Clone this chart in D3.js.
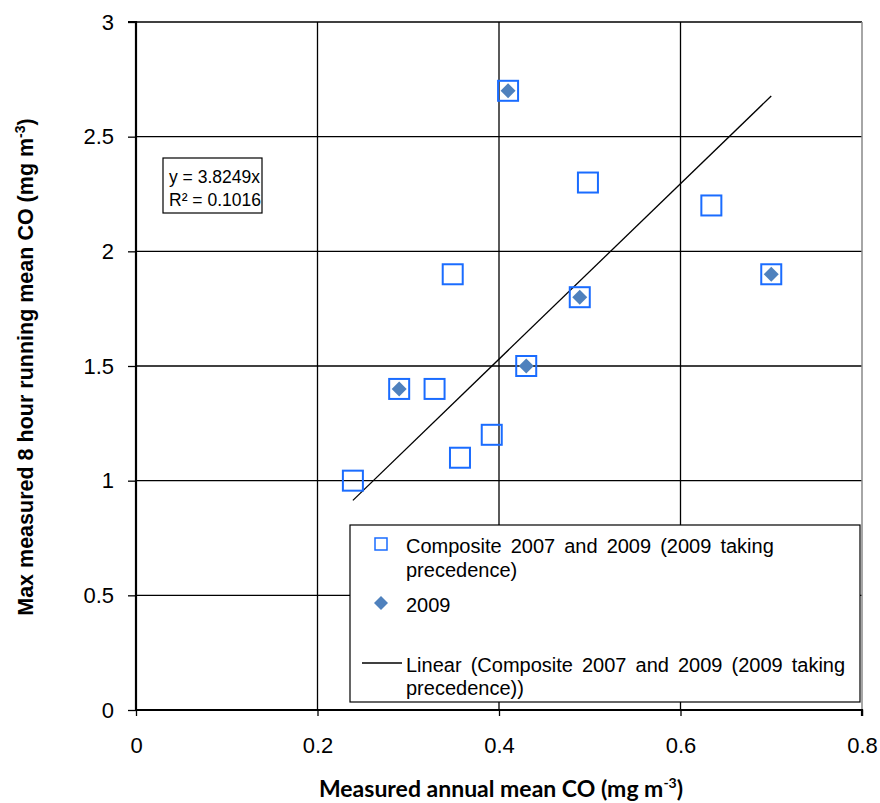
<!DOCTYPE html>
<html><head><meta charset="utf-8">
<script src="https://cdn.jsdelivr.net/npm/d3@7/dist/d3.min.js"></script>
<style>body{margin:0;background:#fff}</style>
</head><body>
<svg id="c" width="880" height="803"></svg>
<script>
const xTicks = [0, 0.2, 0.4, 0.6, 0.8];
const yTicks = [0, 0.5, 1, 1.5, 2, 2.5, 3];
const compositeX = [0.41, 0.498, 0.634, 0.70, 0.349, 0.489, 0.43, 0.29, 0.329, 0.392, 0.357, 0.239];
const compositeY = [2.7, 2.3, 2.2, 1.9, 1.9, 1.8, 1.5, 1.4, 1.4, 1.2, 1.1, 1.0];
const y2009X = [0.41, 0.70, 0.489, 0.43, 0.29];
const y2009Y = [2.7, 1.9, 1.8, 1.5, 1.4];
const slope = 3.8249;
const trendRange = [0.239, 0.70];
const legendLabels = ["Composite 2007 and 2009 (2009 taking", "precedence)", "2009", "Linear (Composite 2007 and 2009 (2009 taking", "precedence))"];
const eqLines = ["y = 3.8249x", "R² = 0.1016"];

const svg = d3.select("#c");
const L = 136, R = 862, T = 22, B = 710;
const x = d3.scaleLinear().domain([0, 0.8]).range([L, R]);
const y = d3.scaleLinear().domain([0, 3]).range([B, T]);
const SANS = "Liberation Sans, Arial, sans-serif";

// grid
const g = svg.append("g");
g.selectAll(".hg").data(yTicks.filter(d => d > 0)).join("line")
  .attr("x1", L).attr("x2", R).attr("y1", d => y(d)).attr("y2", d => y(d))
  .attr("stroke", "#000").attr("stroke-width", 1.3);
g.selectAll(".vg").data(xTicks.filter(d => d > 0 && d < 0.8)).join("line")
  .attr("y1", T).attr("y2", B).attr("x1", d => x(d)).attr("x2", d => x(d))
  .attr("stroke", "#000").attr("stroke-width", 1.3);
svg.append("line").attr("x1", R).attr("x2", R).attr("y1", T).attr("y2", B + 6)
  .attr("stroke", "#888").attr("stroke-width", 1.5);

// axes
const yAxis = d3.axisLeft(y).tickValues(yTicks).tickSize(8).tickPadding(14).tickFormat(d3.format("~g"));
const xAxis = d3.axisBottom(x).tickValues(xTicks).tickSize(6).tickPadding(21).tickFormat(d3.format("~g"));
const ya = svg.append("g").attr("transform", `translate(${L},0)`).call(yAxis);
const xa = svg.append("g").attr("transform", `translate(0,${B})`).call(xAxis);
[ya, xa].forEach(a => {
  a.select(".domain").attr("stroke", "#000").attr("stroke-width", 2.2);
  a.selectAll(".tick line").attr("stroke", "#000").attr("stroke-width", 1.3);
  a.selectAll("text").attr("font-family", SANS).attr("font-size", 22).attr("fill", "#000");
});
ya.select(".domain").attr("d", `M-8,${T}H0V${B}`);
xa.select(".domain").attr("d", `M${L},0H${R}V6`);

// trendline
svg.append("line")
  .attr("x1", x(trendRange[0])).attr("y1", y(slope * trendRange[0]))
  .attr("x2", x(trendRange[1])).attr("y2", y(slope * trendRange[1]))
  .attr("stroke", "#000").attr("stroke-width", 1.3);

// composite squares
const S = 20;
svg.selectAll(".sq").data(compositeX.map((v, i) => [v, compositeY[i]])).join("rect")
  .attr("x", d => x(d[0]) - S / 2).attr("y", d => y(d[1]) - S / 2)
  .attr("width", S).attr("height", S)
  .attr("fill", "none").attr("stroke", "#1a6cff").attr("stroke-width", 2);
// 2009 diamonds
const D = 7.5;
svg.selectAll(".dm").data(y2009X.map((v, i) => [v, y2009Y[i]])).join("path")
  .attr("d", d => `M${x(d[0])},${y(d[1]) - D}L${x(d[0]) + D},${y(d[1])}L${x(d[0])},${y(d[1]) + D}L${x(d[0]) - D},${y(d[1])}Z`)
  .attr("fill", "#4f81bd");

// equation box
svg.append("rect").attr("x", 163).attr("y", 158).attr("width", 99).attr("height", 55)
  .attr("fill", "#fff").attr("stroke", "#000").attr("stroke-width", 1.2);
svg.selectAll(".eq").data(eqLines).join("text")
  .attr("x", 169).attr("y", (d, i) => 183 + i * 23)
  .attr("font-family", SANS).attr("font-size", 17.5).text(d => d);

// legend
svg.append("rect").attr("x", 350).attr("y", 525).attr("width", 510).attr("height", 177)
  .attr("fill", "#fff").attr("stroke", "#000").attr("stroke-width", 1.2);
svg.append("rect").attr("x", 375).attr("y", 538).attr("width", 12).attr("height", 12)
  .attr("fill", "none").attr("stroke", "#1a6cff").attr("stroke-width", 1.5);
svg.append("path").attr("d", "M381,596L388,603L381,610L374,603Z").attr("fill", "#4f81bd");
svg.append("line").attr("x1", 362).attr("x2", 402).attr("y1", 663).attr("y2", 663)
  .attr("stroke", "#000").attr("stroke-width", 1.3);
const legY = [553, 577, 612, 672, 695];
svg.selectAll(".lg").data(legendLabels).join("text")
  .attr("x", 406).attr("y", (d, i) => legY[i])
  .attr("font-family", SANS).attr("font-size", 20)
  .attr("word-spacing", 3.5).text(d => d);

// axis titles
const xt = svg.append("text").attr("x", 501).attr("y", 797).attr("text-anchor", "middle")
  .attr("font-family", "Lato, sans-serif").attr("font-weight", "bold").attr("font-size", 23);
xt.append("tspan").text("Measured annual mean CO (mg m");
xt.append("tspan").attr("dy", -9).attr("font-size", 14).text("-3");
xt.append("tspan").attr("dy", 9).text(")");

const yt = svg.append("text").attr("transform", "translate(33,367) rotate(-90)").attr("text-anchor", "middle")
  .attr("font-family", SANS).attr("font-weight", "bold").attr("font-size", 21.5);
yt.append("tspan").text("Max measured 8 hour running mean CO (mg m");
yt.append("tspan").attr("dy", -8).attr("font-size", 14).text("-3");
yt.append("tspan").attr("dy", 8).text(")");
</script>
</body></html>
